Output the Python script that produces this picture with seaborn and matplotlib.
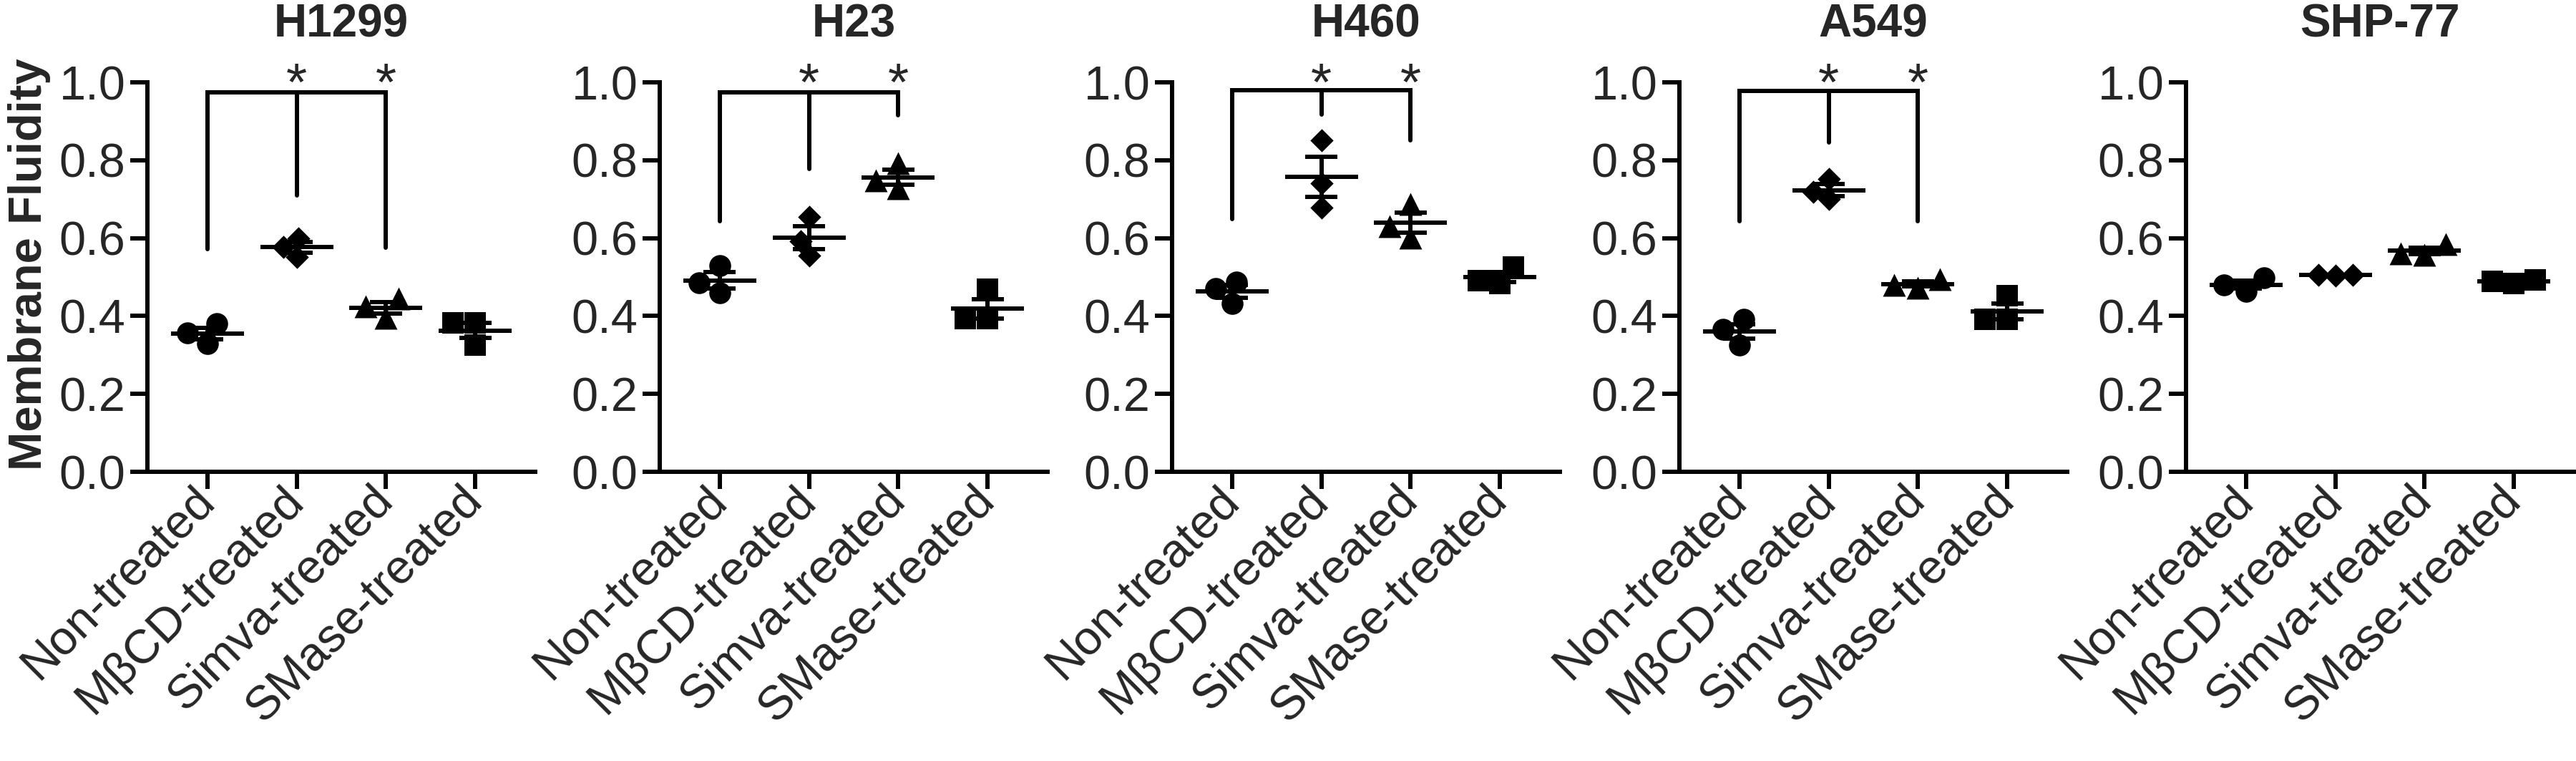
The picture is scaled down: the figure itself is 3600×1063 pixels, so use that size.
import matplotlib.pyplot as plt
import numpy as np
import pandas as pd
import seaborn as sns

cell_lines = ["H1299", "H23", "H460", "A549", "SHP-77"]
groups = ["Non-treated", "MβCD-treated", "Simva-treated", "SMase-treated"]
markers = ["o", "D", "^", "s"]

# three replicates per treatment, same order as `groups`
h1299 = [[0.329, 0.380, 0.356], [0.551, 0.600, 0.578], [0.395, 0.445, 0.425], [0.382, 0.325, 0.382]]
h23 = [[0.530, 0.460, 0.485], [0.655, 0.555, 0.592], [0.728, 0.792, 0.748], [0.468, 0.394, 0.394]]
h460 = [[0.487, 0.432, 0.471], [0.852, 0.741, 0.679], [0.687, 0.601, 0.630], [0.525, 0.483, 0.490]]
a549 = [[0.391, 0.325, 0.365], [0.751, 0.700, 0.719], [0.472, 0.495, 0.480], [0.453, 0.391, 0.391]]
shp77 = [[0.463, 0.498, 0.479], [0.505, 0.503, 0.506], [0.557, 0.585, 0.560], [0.484, 0.492, 0.489]]
fluidity = [h1299, h23, h460, a549, shp77]

# significance brackets: leg ends for Non / MβCD / Simva, and height of the bar
bracket_legs = [[0.571, 0.709, 0.575], [0.643, 0.778, 0.915], [0.649, 0.918, 0.852], [0.644, 0.845, 0.644], None]
bracket_top = [0.974, 0.975, 0.980, 0.978, None]

rows = []
for line, vals in zip(cell_lines, fluidity):
    for g, reps in zip(groups, vals):
        for v in reps:
            rows.append({"line": line, "group": g, "value": v})
df = pd.DataFrame(rows)

sns.set_style("ticks")
plt.rcParams["font.family"] = ["Liberation Sans", "DejaVu Sans"]

W, H = 3600, 1063
LW = 4.3
fig = plt.figure(figsize=(W / 100, H / 100), dpi=100)
lefts = [206, 922, 1638, 2347, 3055]
x = np.arange(len(groups))
marker_size = {"o": 22, "D": 16.5, "^": 23, "s": 21}

for i, line in enumerate(cell_lines):
    ax = fig.add_axes([lefts[i] / W, 1 - 659 / H, 542 / W, 544 / H])
    sub = df[df["line"] == line]
    for g, m in zip(groups, markers):
        sns.swarmplot(data=sub[sub["group"] == g], x="group", y="value", order=groups,
                      marker=m, size=marker_size[m], color="black", ax=ax, zorder=2)

    stats = sub.groupby("group")["value"].agg(["mean", "sem"]).reindex(groups)
    mean, sem = stats["mean"].values, stats["sem"].values
    ax.hlines(mean, x - 0.41, x + 0.41, color="black", lw=LW, zorder=3)
    ax.vlines(x, mean - sem, mean + sem, color="black", lw=LW, zorder=3)
    ax.hlines(mean + sem, x - 0.18, x + 0.18, color="black", lw=LW, zorder=3)
    ax.hlines(mean - sem, x - 0.18, x + 0.18, color="black", lw=LW, zorder=3)

    if bracket_legs[i] is not None:
        legs, top = bracket_legs[i], bracket_top[i]
        ax.plot([0, 0, 2, 2], [legs[0], top, top, legs[2]], color="black", lw=LW,
                clip_on=False, solid_joinstyle="miter")
        ax.plot([1, 1], [top, legs[1]], color="black", lw=LW, clip_on=False)
        for sx in (1, 2):
            ax.text(sx, 0.955, "*", ha="center", va="baseline", fontsize=54, clip_on=False)

    ax.set_xlim(-0.673, 3.673)
    ax.set_ylim(0, 1)
    ax.set_yticks(np.arange(0, 1.01, 0.2))
    ax.set_yticklabels([f"{t:.1f}" for t in np.arange(0, 1.01, 0.2)])
    ax.set_xticks(x)
    ax.set_xticklabels(groups, rotation=45, ha="right", va="center", rotation_mode="anchor")
    ax.set_xlabel("")
    ax.set_ylabel("")
    ax.tick_params(axis="both", width=LW, length=17, labelsize=48, pad=5, color="black")
    sns.despine(ax=ax)
    for side in ("left", "bottom"):
        ax.spines[side].set_linewidth(LW)
        ax.spines[side].set_color("black")

    ax.text(0.5, 1.116, line, transform=ax.transAxes, ha="center", va="baseline",
            fontsize=46, fontweight="bold")

fig.text(41 / W, 1 - 369 / H, "Membrane Fluidity", rotation=90, ha="center", va="center",
         fontsize=47, fontweight="bold")

fig.savefig("out.png", dpi=100, facecolor="white")
